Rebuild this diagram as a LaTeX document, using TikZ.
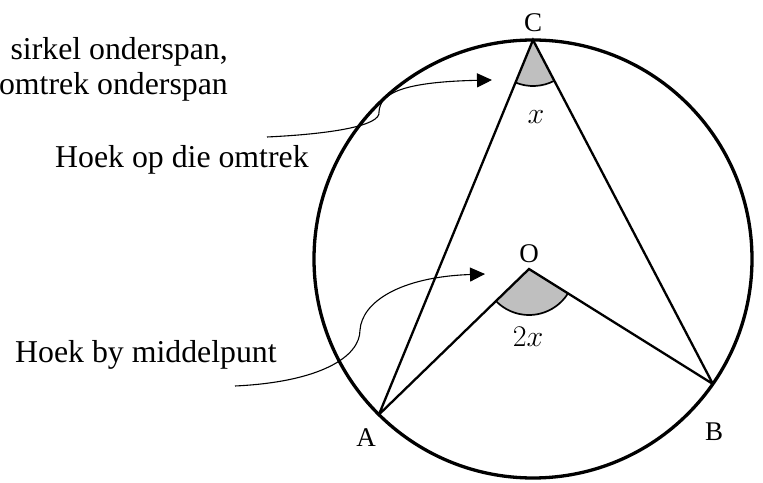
\documentclass[tikz,border=0pt]{standalone}
\usepackage{fix-cm}
\usepackage{fontspec}
\setmainfont{Liberation Serif}
\usepackage{tikz}
\usetikzlibrary{arrows.meta,angles}

\begin{document}
\begin{tikzpicture}[x=1pt,y=1pt,>={Triangle[length=15pt,width=14pt]}]
  \tikzset{txt/.style={font=\fontsize{31.8}{35}\selectfont,inner sep=0pt},ptlbl/.style={font=\fontsize{27}{30}\selectfont,inner sep=0pt},mlbl/.style={font=\fontsize{30}{32}\selectfont,inner sep=0pt},arr/.style={->,line width=1.1pt}}
  \useasboundingbox (0,0) rectangle (763,482);
  \coordinate (M) at (533,223);\coordinate (A) at (378.9,67.4);\coordinate (B) at (712.9,98);\coordinate (C) at (533,442);\coordinate (O) at (529,213);
  \pic[fill=black!25,draw,line width=1.7pt,angle radius=46pt] {angle=A--C--B};
  \pic[fill=black!25,draw,line width=1.7pt,angle radius=46pt] {angle=A--O--B};
  \draw[line width=3.3pt] (M) circle[radius=219];
  \draw[line width=2.3pt] (A)--(C)--(B) (A)--(O)--(B);
  \node[ptlbl] (lC) at (533,459) {C};\node[ptlbl] (lO) at (529,228) {O};\node[ptlbl] (lA) at (366,44) {A};\node[ptlbl] (lB) at (714,50) {B};
  \node[mlbl] (lx) at (536,365) {$x$};\node[mlbl] (l2x) at (528,145) {$2x$};
  \node[txt,anchor=base east] (t1) at (228,422) {sirkel onderspan,};\node[txt,anchor=base east] (t2) at (228,387) {omtrek onderspan};
  \node[txt,anchor=base west] (omtrek) at (55,314) {Hoek op die omtrek};\node[txt,anchor=base west] (middel) at (15,119) {Hoek by middelpunt};
  \coordinate (s1) at (267,345);\coordinate (e1) at (492,402);\coordinate (s2) at (235,96);\coordinate (e2) at (485,208);
  \draw[arr] (s1) .. controls (330,348) and (381,356) .. (379,370) .. controls (380,388) and (400,400) .. (e1);
  \draw[arr] (s2) .. controls (320,100) and (360,125) .. (360,152) .. controls (362,180) and (400,205) .. (e2);
\end{tikzpicture}
\end{document}
